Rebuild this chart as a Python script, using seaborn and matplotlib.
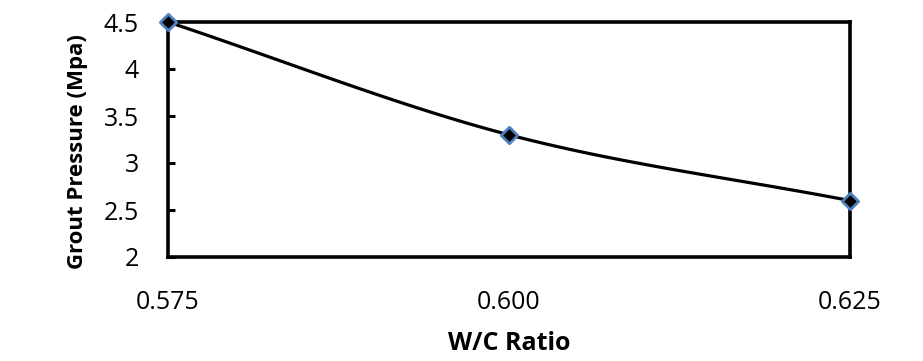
import numpy as np
import pandas as pd
import matplotlib
matplotlib.use("Agg")
import matplotlib.pyplot as plt
import seaborn as sns

wc_ratio = [0.575, 0.600, 0.625]
grout_pressure = [4.5, 3.3, 2.6]
x_tick_labels = ["0.575", "0.600", "0.625"]
y_ticks = [2, 2.5, 3, 3.5, 4, 4.5]
y_tick_labels = ["2", "2.5", "3", "3.5", "4", "4.5"]

sns.set_theme(style="white")
plt.rcParams["font.family"] = ["Open Sans", "DejaVu Sans"]
plt.rcParams["text.color"] = "black"
plt.rcParams["axes.labelcolor"] = "black"
plt.rcParams["xtick.color"] = "black"
plt.rcParams["ytick.color"] = "black"

df = pd.DataFrame({"wc": wc_ratio, "p": grout_pressure})

# Excel-style smoothed line (Catmull-Rom spline through the data points)
def catmull_rom(xs, ys, n=60):
    xs = np.asarray(xs, float); ys = np.asarray(ys, float)
    px = np.concatenate([[2 * xs[0] - xs[1]], xs, [2 * xs[-1] - xs[-2]]])
    py = np.concatenate([[2 * ys[0] - ys[1]], ys, [2 * ys[-1] - ys[-2]]])
    outx, outy = [], []
    for i in range(1, len(px) - 2):
        t = np.linspace(0, 1, n)
        for arr, out in ((px, outx), (py, outy)):
            p0, p1, p2, p3 = arr[i - 1], arr[i], arr[i + 1], arr[i + 2]
            m1 = (p2 - p0) / 2
            m2 = (p3 - p1) / 2
            h00 = 2 * t**3 - 3 * t**2 + 1
            h10 = t**3 - 2 * t**2 + t
            h01 = -2 * t**3 + 3 * t**2
            h11 = t**3 - t**2
            out.extend(h00 * p1 + h10 * m1 + h01 * p2 + h11 * m2)
    return np.array(outx), np.array(outy)

sx, sy = catmull_rom(wc_ratio, grout_pressure)
smooth = pd.DataFrame({"wc": sx, "p": sy})

fig = plt.figure(figsize=(9.23, 3.61), dpi=100)
ax = fig.add_axes([168 / 923, 1 - 257 / 361, (850 - 168) / 923, (257 - 22) / 361])

sns.lineplot(data=smooth, x="wc", y="p", ax=ax, color="black", linewidth=2.3,
             sort=False, estimator=None, zorder=3)
sns.scatterplot(data=df, x="wc", y="p", ax=ax, marker="D", s=70,
                color="black", edgecolor="#4f81bd", linewidth=2.0, zorder=4,
                clip_on=False)

ax.set_xlim(0.575, 0.625)
ax.set_ylim(2, 4.5)
ax.set_xticks(wc_ratio)
ax.set_xticklabels(x_tick_labels)
ax.set_yticks(y_ticks)
ax.set_yticklabels(y_tick_labels)

for s in ax.spines.values():
    s.set_visible(True)
    s.set_color("black")
    s.set_linewidth(2.6)

ax.tick_params(axis="y", direction="in", length=5, width=2.2, left=True,
               labelsize=18, pad=21, colors="black")
ax.tick_params(axis="x", bottom=False, labelsize=18, pad=18, colors="black")

ax.set_xlabel("W/C Ratio", fontsize=18, fontweight="bold")
ax.set_ylabel("Grout Pressure (Mpa)", fontsize=16, fontweight="bold")
ax.xaxis.set_label_coords(0.5, (257 - 343) / 235)
ax.xaxis.label.set_va("center")
ax.yaxis.set_label_coords((78 - 168) / 682, (257 - 152) / 235)
ax.yaxis.label.set_va("center")
ax.grid(False)

fig.savefig("out.png", dpi=100)
